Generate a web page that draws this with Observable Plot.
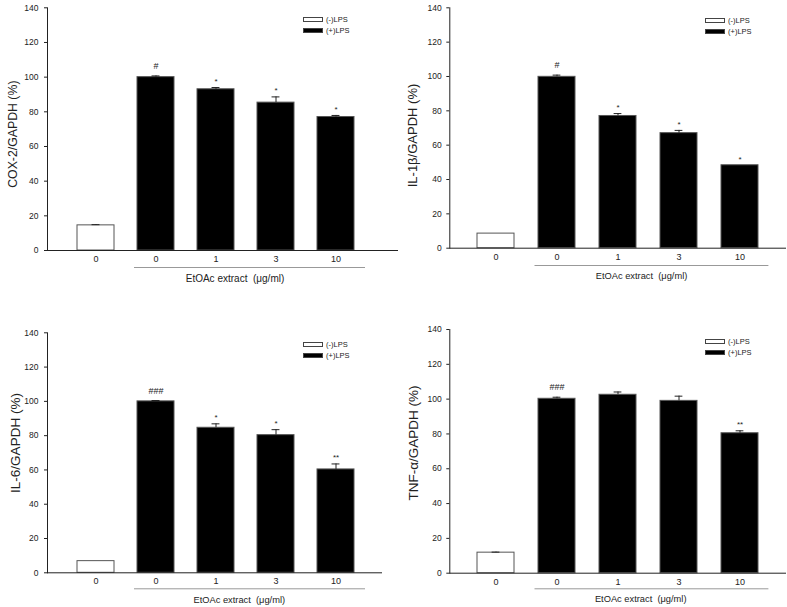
<!DOCTYPE html>
<html>
<head>
<meta charset="utf-8">
<script src="https://cdn.jsdelivr.net/npm/d3@7"></script>
<script src="https://cdn.jsdelivr.net/npm/@observablehq/plot@0.6"></script>
<style>
  html, body { margin: 0; padding: 0; background: #fff; }
  #fig { position: relative; width: 787px; height: 607px; background: #fff; overflow: hidden;
         font-family: "Liberation Sans", Arial, sans-serif; }
  .panel { position: absolute; }
  .legend { position: absolute; font-size: 7.5px; color: #222; line-height: 11px; }
  .legend .row { display: flex; align-items: center; height: 11px; }
  .legend .box { width: 18px; height: 3px; border: 1px solid #444; margin-right: 3px; }
</style>
</head>
<body>
<div id="fig"></div>
<script>
// ---------- data ----------
const xCats = ["-LPS 0", "+LPS 0", "1", "3", "10"];
const xTickLabels = ["0", "0", "1", "3", "10"];
const groupFill = ["white", "black", "black", "black", "black"];
const legendLabels = ["(-)LPS", "(+)LPS"];
const extractLabel = "EtOAc extract \u00A0(\u03BCg/ml)";
const yTicks = [0, 20, 40, 60, 80, 100, 120, 140];

const cox2Title = "COX-2/GAPDH (%)";
const cox2Values = [14.5, 100, 93, 85.3, 77];
const cox2Errors = [0.4, 0.7, 1.0, 3.3, 0.9];
const cox2Sig = ["", "#", "*", "*", "*"];

const il1bTitle = "IL-1\u03B2/GAPDH (%)";
const il1bValues = [8.5, 99.8, 77, 67, 48.3];
const il1bErrors = [0, 1.0, 1.4, 1.6, 0];
const il1bSig = ["", "#", "*", "*", "*"];

const il6Title = "IL-6/GAPDH (%)";
const il6Values = [6.8, 100, 84.6, 80.3, 60.3];
const il6Errors = [0, 0.5, 2.3, 3.2, 3.2];
const il6Sig = ["", "###", "*", "*", "**"];

const tnfTitle = "TNF-\u03B1/GAPDH (%)";
const tnfValues = [11.8, 100.2, 102.5, 99, 80.4];
const tnfErrors = [0.3, 0.9, 1.6, 2.7, 1.4];
const tnfSig = ["", "###", "", "", "**"];

// ---------- layout (per panel) ----------
const panels = [
  {title: cox2Title, values: cox2Values, errors: cox2Errors, sig: cox2Sig,
   left: 0, top: 0, width: 400, height: 300, mL: 47, mT: 7.3, mB: 50, mR: 2,
   xRange: [63.1, 366.9], titleX: 12.5, titleDy: 5, titleSize: 12.3, tickPad: 6,
   grayDy: 17, grayL: -3, grayR: -11, labDy: 28, labDx: 19, labSize: 10, legX: 303, legY: 14},
  {title: il1bTitle, values: il1bValues, errors: il1bErrors, sig: il1bSig,
   left: 390, top: 0, width: 397, height: 300, mL: 59.3, mT: 7.3, mB: 52.3, mR: 1,
   xRange: [74.5, 379.8], titleX: 22, titleDy: 7.5, titleSize: 13, tickPad: 5,
   grayDy: 17.3, grayL: -3.5, grayR: -10.4, labDy: 28.3, labDx: 23.5, labSize: 9.3, legX: 315, legY: 15},
  {title: il6Title, values: il6Values, errors: il6Errors, sig: il6Sig,
   left: 0, top: 300, width: 400, height: 307, mL: 47, mT: 32.3, mB: 34.7, mR: 18,
   xRange: [63.1, 366.9], titleX: 15, titleDy: -9.8, titleSize: 13.5, tickPad: 6,
   grayDy: 16, grayL: -3, grayR: -11, labDy: 27.7, labDx: 23.3, labSize: 9.3, legX: 303, legY: 39},
  {title: tnfTitle, values: tnfValues, errors: tnfErrors, sig: tnfSig,
   left: 390, top: 300, width: 397, height: 307, mL: 59.3, mT: 29, mB: 34.3, mR: 1,
   xRange: [74.5, 379.8], titleX: 23, titleDy: -8.4, titleSize: 13.5, tickPad: 5,
   grayDy: 15.6, grayL: -3.5, grayR: -10.4, labDy: 25.6, labDx: 22.7, labSize: 9.3, legX: 315, legY: 35.7}
];

const fig = document.getElementById("fig");

for (const p of panels) {
  const rows = xCats.map((c, i) => ({cat: c, v: p.values[i], e: p.errors[i], sig: p.sig[i], fill: groupFill[i]}));
  const withErr = rows.filter(d => d.e > 0);
  const hashRows = rows.filter(d => d.sig.startsWith("#"));
  const starRows = rows.filter(d => d.sig.startsWith("*"));
  const bw = (p.xRange[1] - p.xRange[0]) / 5 * 0.61;
  const capInset = (bw - 8) / 2;

  const chart = Plot.plot({
    width: p.width, height: p.height,
    marginLeft: p.mL, marginTop: p.mT, marginBottom: p.mB, marginRight: p.mR,
    style: {fontFamily: '"Liberation Sans", Arial, sans-serif', color: "#222", background: "transparent"},
    x: {type: "band", domain: xCats, range: p.xRange, paddingInner: 0.39, paddingOuter: 0.195, label: null},
    y: {domain: [0, 140], label: null},
    marks: [
      Plot.barY(rows, {x: "cat", y: "v", fill: "fill", stroke: "#555", strokeWidth: 1}),
      Plot.ruleX(withErr, {x: "cat", y1: "v", y2: d => d.v + d.e, stroke: "#222", strokeWidth: 1}),
      Plot.tickY(withErr, {x: "cat", y: d => d.v + d.e, stroke: "#222", strokeWidth: 1, insetLeft: capInset, insetRight: capInset}),
      Plot.text(hashRows, {x: "cat", y: d => d.v + d.e, text: "sig", dy: -7, fontSize: 9, lineAnchor: "bottom", fill: "#222"}),
      Plot.text(starRows, {x: "cat", y: d => d.v + d.e, text: "sig", dy: -3.5, fontSize: 8, lineAnchor: "bottom", fill: "#222"}),
      Plot.ruleY([0], {stroke: "#222", strokeWidth: 1}),
      Plot.frame({anchor: "left", stroke: "#222", strokeWidth: 1}),
      Plot.axisY({ticks: yTicks, tickSize: 3, tickPadding: p.tickPad, fontSize: 8.5, label: null}),
      Plot.axisX({tickSize: 0, tickPadding: 5, fontSize: 9, label: null,
                  tickFormat: d => xTickLabels[xCats.indexOf(d)]}),
      Plot.ruleY([0], {x1: () => xCats[1], x2: () => xCats[4], dy: p.grayDy, stroke: "#999", strokeWidth: 1,
                        insetLeft: p.grayL, insetRight: p.grayR}),
      Plot.text([extractLabel], {x: () => xCats[2], y: () => 0, dy: p.labDy, dx: p.labDx, fontSize: p.labSize,
                                 lineAnchor: "middle", fill: "#222"}),
      Plot.text([p.title], {frameAnchor: "left", rotate: -90, dx: p.titleX - p.mL, dy: p.titleDy,
                            fontSize: p.titleSize, lineAnchor: "middle", textAnchor: "middle", fill: "#222"})
    ]
  });

  const wrap = document.createElement("div");
  wrap.className = "panel";
  wrap.style.left = p.left + "px";
  wrap.style.top = p.top + "px";
  wrap.style.width = p.width + "px";
  wrap.style.height = p.height + "px";
  wrap.appendChild(chart);

  const leg = document.createElement("div");
  leg.className = "legend";
  leg.style.left = p.legX + "px";
  leg.style.top = p.legY + "px";
  legendLabels.forEach((lab, i) => {
    const row = document.createElement("div");
    row.className = "row";
    const box = document.createElement("span");
    box.className = "box";
    box.style.background = i === 0 ? "white" : "black";
    const t = document.createElement("span");
    t.textContent = lab;
    row.appendChild(box);
    row.appendChild(t);
    leg.appendChild(row);
  });
  wrap.appendChild(leg);
  fig.appendChild(wrap);
}
</script>
</body>
</html>
